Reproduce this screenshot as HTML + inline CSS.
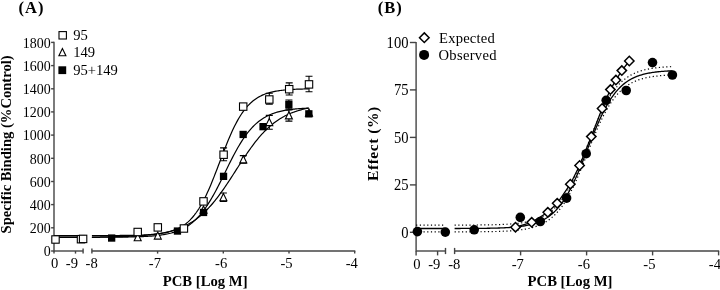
<!DOCTYPE html>
<html><head><meta charset="utf-8"><title>Figure</title>
<style>
html,body{margin:0;padding:0;background:#fff;}
body{width:720px;height:290px;overflow:hidden;}
svg{display:block;}
text{font-family:"Liberation Serif",serif;fill:#000;}
.b{font-weight:bold;}
</style></head><body>
<svg width="720" height="290" viewBox="0 0 720 290">
<rect width="720" height="290" fill="#fff"/>
<g stroke="#444" stroke-width="1.4" fill="none">
<path d="M54.0 41.8V251.6"/>
<path d="M51.1 251.0H54.0"/>
<path d="M51.1 227.8H54.0"/>
<path d="M51.1 204.6H54.0"/>
<path d="M51.1 181.5H54.0"/>
<path d="M51.1 158.3H54.0"/>
<path d="M51.1 135.1H54.0"/>
<path d="M51.1 111.9H54.0"/>
<path d="M51.1 88.8H54.0"/>
<path d="M51.1 65.6H54.0"/>
<path d="M51.1 42.4H54.0"/>
<path d="M54.0 251.0H83.1"/>
<path d="M91.9 251.0H355.3"/>
<path d="M83.1 248.6V253.4"/>
<path d="M91.9 248.6V253.4"/>
<path d="M54.0 251.0V253.6"/>
<path d="M75.5 251.0V253.6"/>
<path d="M157.6 251.0V253.6"/>
<path d="M223.3 251.0V253.6"/>
<path d="M289.0 251.0V253.6"/>
<path d="M354.7 251.0V253.6"/>
</g>
<text transform="translate(50.7 256.2) scale(0.955 1.03)" font-size="14.6" text-anchor="end">0</text>
<text transform="translate(50.7 233.0) scale(0.955 1.03)" font-size="14.6" text-anchor="end">200</text>
<text transform="translate(50.7 209.8) scale(0.955 1.03)" font-size="14.6" text-anchor="end">400</text>
<text transform="translate(50.7 186.7) scale(0.955 1.03)" font-size="14.6" text-anchor="end">600</text>
<text transform="translate(50.7 163.5) scale(0.955 1.03)" font-size="14.6" text-anchor="end">800</text>
<text transform="translate(50.7 140.3) scale(0.955 1.03)" font-size="14.6" text-anchor="end">1000</text>
<text transform="translate(50.7 117.1) scale(0.955 1.03)" font-size="14.6" text-anchor="end">1200</text>
<text transform="translate(50.7 94.0) scale(0.955 1.03)" font-size="14.6" text-anchor="end">1400</text>
<text transform="translate(50.7 70.8) scale(0.955 1.03)" font-size="14.6" text-anchor="end">1600</text>
<text transform="translate(50.7 47.6) scale(0.955 1.03)" font-size="14.6" text-anchor="end">1800</text>
<text x="54.6" y="268.2" font-size="14.6" text-anchor="middle">0</text>
<text transform="translate(78.0 268.2) scale(1 1.0)" font-size="14.6" text-anchor="end">-9</text>
<text transform="translate(97.7 268.2) scale(1 1.0)" font-size="14.6" text-anchor="end">-8</text>
<text transform="translate(161.0 268.2) scale(1 1.0)" font-size="14.6" text-anchor="end">-7</text>
<text transform="translate(227.2 268.2) scale(1 1.0)" font-size="14.6" text-anchor="end">-6</text>
<text transform="translate(292.6 268.2) scale(1 1.0)" font-size="14.6" text-anchor="end">-5</text>
<text transform="translate(357.9 268.2) scale(1 1.0)" font-size="14.6" text-anchor="end">-4</text>
<text class="b" x="18.6" y="13" font-size="16.5" letter-spacing="1">(A)</text>
<text class="b" x="205.2" y="286" font-size="14.7" text-anchor="middle">PCB [Log M]</text>
<text class="b" transform="translate(11 144.4) rotate(-90)" font-size="14.6" text-anchor="middle">Specific Binding (%Control)</text>
<path d="M54.0 237.21H83.1 M91.90 237.05 L92.99 237.04 L94.08 237.03 L95.17 237.02 L96.26 237.01 L97.35 237.00 L98.44 236.99 L99.53 236.98 L100.62 236.97 L101.71 236.96 L102.79 236.94 L103.88 236.93 L104.97 236.92 L106.06 236.90 L107.15 236.89 L108.24 236.87 L109.33 236.85 L110.42 236.83 L111.51 236.81 L112.60 236.79 L113.69 236.77 L114.78 236.75 L115.87 236.72 L116.96 236.70 L118.05 236.67 L119.14 236.64 L120.23 236.61 L121.32 236.58 L122.41 236.55 L123.50 236.52 L124.58 236.48 L125.67 236.44 L126.76 236.40 L127.85 236.36 L128.94 236.32 L130.03 236.27 L131.12 236.22 L132.21 236.17 L133.30 236.11 L134.39 236.06 L135.48 236.00 L136.57 235.94 L137.66 235.87 L138.75 235.80 L139.84 235.73 L140.93 235.65 L142.02 235.57 L143.11 235.49 L144.20 235.40 L145.29 235.30 L146.37 235.21 L147.46 235.10 L148.55 234.99 L149.64 234.88 L150.73 234.76 L151.82 234.64 L152.91 234.50 L154.00 234.36 L155.09 234.22 L156.18 234.07 L157.27 233.91 L158.36 233.74 L159.45 233.56 L160.54 233.38 L161.63 233.18 L162.72 232.98 L163.81 232.76 L164.90 232.54 L165.99 232.30 L167.08 232.06 L168.16 231.80 L169.25 231.53 L170.34 231.25 L171.43 230.95 L172.52 230.64 L173.61 230.31 L174.70 229.97 L175.79 229.61 L176.88 229.24 L177.97 228.85 L179.06 228.44 L180.15 228.01 L181.24 227.57 L182.33 227.10 L183.42 226.61 L184.51 226.11 L185.60 225.58 L186.69 225.02 L187.78 224.45 L188.87 223.85 L189.95 223.22 L191.04 222.57 L192.13 221.89 L193.22 221.19 L194.31 220.45 L195.40 219.69 L196.49 218.90 L197.58 218.08 L198.67 217.23 L199.76 216.35 L200.85 215.44 L201.94 214.49 L203.03 213.52 L204.12 212.51 L205.21 211.46 L206.30 210.39 L207.39 209.28 L208.48 208.14 L209.57 206.96 L210.66 205.75 L211.74 204.51 L212.83 203.24 L213.92 201.93 L215.01 200.59 L216.10 199.22 L217.19 197.82 L218.28 196.39 L219.37 194.93 L220.46 193.45 L221.55 191.94 L222.64 190.40 L223.73 188.84 L224.82 187.26 L225.91 185.65 L227.00 184.03 L228.09 182.39 L229.18 180.74 L230.27 179.08 L231.36 177.40 L232.45 175.71 L233.53 174.02 L234.62 172.32 L235.71 170.62 L236.80 168.92 L237.89 167.23 L238.98 165.53 L240.07 163.85 L241.16 162.17 L242.25 160.50 L243.34 158.85 L244.43 157.21 L245.52 155.58 L246.61 153.98 L247.70 152.39 L248.79 150.83 L249.88 149.29 L250.97 147.77 L252.06 146.28 L253.15 144.82 L254.24 143.39 L255.32 141.99 L256.41 140.61 L257.50 139.27 L258.59 137.96 L259.68 136.68 L260.77 135.43 L261.86 134.22 L262.95 133.04 L264.04 131.90 L265.13 130.78 L266.22 129.70 L267.31 128.66 L268.40 127.64 L269.49 126.66 L270.58 125.71 L271.67 124.79 L272.76 123.91 L273.85 123.05 L274.94 122.23 L276.03 121.44 L277.11 120.67 L278.20 119.94 L279.29 119.23 L280.38 118.55 L281.47 117.89 L282.56 117.26 L283.65 116.66 L284.74 116.08 L285.83 115.52 L286.92 114.99 L288.01 114.48 L289.10 113.99 L290.19 113.52 L291.28 113.07 L292.37 112.64 L293.46 112.23 L294.55 111.84 L295.64 111.46 L296.73 111.11 L297.82 110.76 L298.90 110.43 L299.99 110.12 L301.08 109.82 L302.17 109.54 L303.26 109.26 L304.35 109.00 L305.44 108.76 L306.53 108.52 L307.62 108.29 L308.71 108.08" fill="none" stroke="#000" stroke-width="1.2"/>
<path d="M54.0 237.33H83.1 M91.90 237.29 L92.99 237.29 L94.08 237.29 L95.17 237.29 L96.26 237.28 L97.35 237.28 L98.44 237.28 L99.53 237.28 L100.62 237.27 L101.71 237.27 L102.79 237.26 L103.88 237.26 L104.97 237.26 L106.06 237.25 L107.15 237.25 L108.24 237.24 L109.33 237.23 L110.42 237.23 L111.51 237.22 L112.60 237.21 L113.69 237.21 L114.78 237.20 L115.87 237.19 L116.96 237.18 L118.05 237.17 L119.14 237.16 L120.23 237.14 L121.32 237.13 L122.41 237.12 L123.50 237.10 L124.58 237.09 L125.67 237.07 L126.76 237.05 L127.85 237.03 L128.94 237.01 L130.03 236.99 L131.12 236.97 L132.21 236.94 L133.30 236.92 L134.39 236.89 L135.48 236.86 L136.57 236.82 L137.66 236.79 L138.75 236.75 L139.84 236.71 L140.93 236.67 L142.02 236.62 L143.11 236.57 L144.20 236.52 L145.29 236.46 L146.37 236.40 L147.46 236.33 L148.55 236.27 L149.64 236.19 L150.73 236.11 L151.82 236.03 L152.91 235.94 L154.00 235.84 L155.09 235.73 L156.18 235.62 L157.27 235.50 L158.36 235.38 L159.45 235.24 L160.54 235.10 L161.63 234.94 L162.72 234.78 L163.81 234.60 L164.90 234.41 L165.99 234.21 L167.08 234.00 L168.16 233.77 L169.25 233.52 L170.34 233.26 L171.43 232.99 L172.52 232.69 L173.61 232.37 L174.70 232.04 L175.79 231.68 L176.88 231.30 L177.97 230.89 L179.06 230.46 L180.15 230.01 L181.24 229.52 L182.33 229.00 L183.42 228.45 L184.51 227.87 L185.60 227.25 L186.69 226.60 L187.78 225.91 L188.87 225.18 L189.95 224.40 L191.04 223.59 L192.13 222.72 L193.22 221.81 L194.31 220.86 L195.40 219.85 L196.49 218.79 L197.58 217.67 L198.67 216.51 L199.76 215.28 L200.85 214.00 L201.94 212.67 L203.03 211.27 L204.12 209.82 L205.21 208.31 L206.30 206.74 L207.39 205.11 L208.48 203.43 L209.57 201.69 L210.66 199.90 L211.74 198.05 L212.83 196.15 L213.92 194.20 L215.01 192.21 L216.10 190.18 L217.19 188.11 L218.28 186.00 L219.37 183.87 L220.46 181.70 L221.55 179.52 L222.64 177.32 L223.73 175.11 L224.82 172.89 L225.91 170.67 L227.00 168.45 L228.09 166.25 L229.18 164.06 L230.27 161.88 L231.36 159.73 L232.45 157.61 L233.53 155.52 L234.62 153.47 L235.71 151.46 L236.80 149.49 L237.89 147.57 L238.98 145.70 L240.07 143.88 L241.16 142.12 L242.25 140.41 L243.34 138.75 L244.43 137.16 L245.52 135.62 L246.61 134.14 L247.70 132.72 L248.79 131.35 L249.88 130.05 L250.97 128.80 L252.06 127.60 L253.15 126.47 L254.24 125.38 L255.32 124.35 L256.41 123.37 L257.50 122.44 L258.59 121.55 L259.68 120.71 L260.77 119.92 L261.86 119.17 L262.95 118.46 L264.04 117.79 L265.13 117.15 L266.22 116.55 L267.31 115.99 L268.40 115.46 L269.49 114.96 L270.58 114.49 L271.67 114.04 L272.76 113.63 L273.85 113.23 L274.94 112.87 L276.03 112.52 L277.11 112.19 L278.20 111.89 L279.29 111.60 L280.38 111.34 L281.47 111.08 L282.56 110.85 L283.65 110.63 L284.74 110.42 L285.83 110.22 L286.92 110.04 L288.01 109.87 L289.10 109.71 L290.19 109.56 L291.28 109.42 L292.37 109.29 L293.46 109.17 L294.55 109.06 L295.64 108.95 L296.73 108.85 L297.82 108.75 L298.90 108.67 L299.99 108.58 L301.08 108.51 L302.17 108.44 L303.26 108.37 L304.35 108.31 L305.44 108.25 L306.53 108.19 L307.62 108.14 L308.71 108.09" fill="none" stroke="#000" stroke-width="1.2"/>
<path d="M54.0 235.59H83.1 M91.90 235.57 L92.99 235.57 L94.08 235.57 L95.17 235.57 L96.26 235.57 L97.35 235.56 L98.44 235.56 L99.53 235.56 L100.62 235.56 L101.71 235.56 L102.79 235.55 L103.88 235.55 L104.97 235.55 L106.06 235.54 L107.15 235.54 L108.24 235.54 L109.33 235.53 L110.42 235.53 L111.51 235.52 L112.60 235.52 L113.69 235.51 L114.78 235.51 L115.87 235.50 L116.96 235.50 L118.05 235.49 L119.14 235.48 L120.23 235.47 L121.32 235.46 L122.41 235.45 L123.50 235.44 L124.58 235.43 L125.67 235.42 L126.76 235.40 L127.85 235.39 L128.94 235.37 L130.03 235.35 L131.12 235.33 L132.21 235.31 L133.30 235.29 L134.39 235.27 L135.48 235.24 L136.57 235.21 L137.66 235.18 L138.75 235.15 L139.84 235.11 L140.93 235.08 L142.02 235.03 L143.11 234.99 L144.20 234.94 L145.29 234.89 L146.37 234.83 L147.46 234.77 L148.55 234.71 L149.64 234.63 L150.73 234.56 L151.82 234.47 L152.91 234.38 L154.00 234.29 L155.09 234.18 L156.18 234.07 L157.27 233.95 L158.36 233.82 L159.45 233.67 L160.54 233.52 L161.63 233.35 L162.72 233.17 L163.81 232.98 L164.90 232.77 L165.99 232.55 L167.08 232.31 L168.16 232.05 L169.25 231.77 L170.34 231.46 L171.43 231.14 L172.52 230.79 L173.61 230.41 L174.70 230.01 L175.79 229.57 L176.88 229.10 L177.97 228.60 L179.06 228.06 L180.15 227.48 L181.24 226.86 L182.33 226.19 L183.42 225.48 L184.51 224.72 L185.60 223.91 L186.69 223.04 L187.78 222.11 L188.87 221.12 L189.95 220.06 L191.04 218.94 L192.13 217.75 L193.22 216.49 L194.31 215.15 L195.40 213.73 L196.49 212.24 L197.58 210.66 L198.67 209.00 L199.76 207.25 L200.85 205.42 L201.94 203.50 L203.03 201.49 L204.12 199.40 L205.21 197.22 L206.30 194.96 L207.39 192.62 L208.48 190.20 L209.57 187.71 L210.66 185.15 L211.74 182.52 L212.83 179.84 L213.92 177.11 L215.01 174.33 L216.10 171.52 L217.19 168.68 L218.28 165.82 L219.37 162.95 L220.46 160.07 L221.55 157.20 L222.64 154.35 L223.73 151.52 L224.82 148.72 L225.91 145.96 L227.00 143.25 L228.09 140.59 L229.18 137.99 L230.27 135.46 L231.36 133.00 L232.45 130.61 L233.53 128.31 L234.62 126.08 L235.71 123.94 L236.80 121.88 L237.89 119.91 L238.98 118.03 L240.07 116.23 L241.16 114.52 L242.25 112.89 L243.34 111.35 L244.43 109.89 L245.52 108.50 L246.61 107.20 L247.70 105.96 L248.79 104.80 L249.88 103.71 L250.97 102.68 L252.06 101.72 L253.15 100.82 L254.24 99.97 L255.32 99.18 L256.41 98.44 L257.50 97.75 L258.59 97.10 L259.68 96.50 L260.77 95.94 L261.86 95.41 L262.95 94.92 L264.04 94.47 L265.13 94.05 L266.22 93.65 L267.31 93.29 L268.40 92.95 L269.49 92.63 L270.58 92.34 L271.67 92.07 L272.76 91.81 L273.85 91.58 L274.94 91.36 L276.03 91.16 L277.11 90.97 L278.20 90.80 L279.29 90.64 L280.38 90.49 L281.47 90.35 L282.56 90.23 L283.65 90.11 L284.74 90.00 L285.83 89.90 L286.92 89.80 L288.01 89.72 L289.10 89.64 L290.19 89.56 L291.28 89.49 L292.37 89.43 L293.46 89.37 L294.55 89.31 L295.64 89.26 L296.73 89.22 L297.82 89.17 L298.90 89.13 L299.99 89.10 L301.08 89.06 L302.17 89.03 L303.26 89.00 L304.35 88.97 L305.44 88.95 L306.53 88.93 L307.62 88.90 L308.71 88.88" fill="none" stroke="#000" stroke-width="1.2"/>
<path d="M137.7 233.5L141.2 240.7H134.2Z" fill="#fff" stroke="#000" stroke-width="1.1" stroke-linejoin="miter"/>
<path d="M157.8 231.9L161.3 239.1H154.3Z" fill="#fff" stroke="#000" stroke-width="1.1" stroke-linejoin="miter"/>
<path d="M203.5 205.9L207.0 213.1H200.0Z" fill="#fff" stroke="#000" stroke-width="1.1" stroke-linejoin="miter"/>
<path d="M223.4 193.0V201.4M219.9 193.0h7M219.9 201.4h7" fill="none" stroke="#000" stroke-width="1.1"/>
<path d="M223.4 193.6L226.9 200.8H219.9Z" fill="#fff" stroke="#000" stroke-width="1.1" stroke-linejoin="miter"/>
<path d="M243.3 155.6V163.3M239.8 155.6h7M239.8 163.3h7" fill="none" stroke="#000" stroke-width="1.1"/>
<path d="M243.3 155.7L246.8 162.9H239.8Z" fill="#fff" stroke="#000" stroke-width="1.1" stroke-linejoin="miter"/>
<path d="M269.3 115.4V129.3M265.8 115.4h7M265.8 129.3h7" fill="none" stroke="#000" stroke-width="1.1"/>
<path d="M269.3 118.4L272.8 125.6H265.8Z" fill="#fff" stroke="#000" stroke-width="1.1" stroke-linejoin="miter"/>
<path d="M288.9 110.0V121.1M285.4 110.0h7M285.4 121.1h7" fill="none" stroke="#000" stroke-width="1.1"/>
<path d="M288.9 111.7L292.4 118.9H285.4Z" fill="#fff" stroke="#000" stroke-width="1.1" stroke-linejoin="miter"/>
<path d="M309.0 108.9L312.5 116.1H305.5Z" fill="#fff" stroke="#000" stroke-width="1.1" stroke-linejoin="miter"/>
<rect x="108.0" y="234.4" width="7.3" height="7.3" fill="#000"/>
<rect x="173.8" y="227.4" width="7.3" height="7.3" fill="#000"/>
<rect x="199.9" y="208.8" width="7.3" height="7.3" fill="#000"/>
<rect x="219.9" y="172.7" width="7.3" height="7.3" fill="#000"/>
<rect x="239.5" y="130.8" width="7.3" height="7.3" fill="#000"/>
<rect x="259.4" y="123.0" width="7.3" height="7.3" fill="#000"/>
<path d="M288.9 100.0V108.9M285.4 100.0h7M285.4 108.9h7" fill="none" stroke="#000" stroke-width="1.1"/>
<rect x="285.2" y="100.8" width="7.3" height="7.3" fill="#000"/>
<rect x="305.2" y="110.2" width="7.3" height="7.3" fill="#000"/>
<rect x="51.80" y="235.80" width="7.4" height="7.4" fill="#fff" stroke="#000" stroke-width="1.1"/>
<rect x="77.30" y="235.50" width="7.4" height="7.4" fill="#fff" stroke="#000" stroke-width="1.1"/>
<rect x="79.40" y="235.20" width="7.4" height="7.4" fill="#fff" stroke="#000" stroke-width="1.1"/>
<rect x="134.00" y="228.30" width="7.4" height="7.4" fill="#fff" stroke="#000" stroke-width="1.1"/>
<rect x="154.10" y="223.70" width="7.4" height="7.4" fill="#fff" stroke="#000" stroke-width="1.1"/>
<rect x="180.20" y="224.80" width="7.4" height="7.4" fill="#fff" stroke="#000" stroke-width="1.1"/>
<rect x="199.80" y="197.70" width="7.4" height="7.4" fill="#fff" stroke="#000" stroke-width="1.1"/>
<path d="M223.6 147.9V160.7M220.1 147.9h7M220.1 160.7h7" fill="none" stroke="#000" stroke-width="1.1"/>
<rect x="219.90" y="151.00" width="7.4" height="7.4" fill="#fff" stroke="#000" stroke-width="1.1"/>
<rect x="239.50" y="102.90" width="7.4" height="7.4" fill="#fff" stroke="#000" stroke-width="1.1"/>
<path d="M269.3 93.3V104.1M265.8 93.3h7M265.8 104.1h7" fill="none" stroke="#000" stroke-width="1.1"/>
<rect x="265.60" y="95.80" width="7.4" height="7.4" fill="#fff" stroke="#000" stroke-width="1.1"/>
<path d="M289.2 82.9V95.0M285.7 82.9h7M285.7 95.0h7" fill="none" stroke="#000" stroke-width="1.1"/>
<rect x="285.50" y="85.50" width="7.4" height="7.4" fill="#fff" stroke="#000" stroke-width="1.1"/>
<path d="M309.0 76.2V91.8M305.5 76.2h7M305.5 91.8h7" fill="none" stroke="#000" stroke-width="1.1"/>
<rect x="305.30" y="80.70" width="7.4" height="7.4" fill="#fff" stroke="#000" stroke-width="1.1"/>
<rect x="59.00" y="31.60" width="7.4" height="7.4" fill="#fff" stroke="#000" stroke-width="1.1"/>
<path d="M62.4 48.5L65.9 55.7H58.9Z" fill="#fff" stroke="#000" stroke-width="1.1" stroke-linejoin="miter"/>
<rect x="58.4" y="66.3" width="7.8" height="7.8" fill="#000"/>
<text x="73.2" y="40" font-size="14.6">95</text>
<text x="73.2" y="57.2" font-size="14.6">149</text>
<text x="73.2" y="75.4" font-size="14.6">95+149</text>
<g stroke="#444" stroke-width="1.4" fill="none">
<path d="M416.1 41.9V251.6"/>
<path d="M409.9 232.3H416.1"/>
<path d="M409.9 184.9H416.1"/>
<path d="M409.9 137.4H416.1"/>
<path d="M409.9 89.9H416.1"/>
<path d="M409.9 42.5H416.1"/>
<path d="M416.1 251.0H445.5"/>
<path d="M454.6 251.0H719.2"/>
<path d="M445.5 247.9V254.1"/>
<path d="M454.6 247.9V254.1"/>
<path d="M416.1 251.0V255.4"/>
<path d="M437.6 251.0V255.4"/>
<path d="M520.6 251.0V255.4"/>
<path d="M586.6 251.0V255.4"/>
<path d="M652.6 251.0V255.4"/>
<path d="M718.6 251.0V255.4"/>
</g>
<text transform="translate(408.5 237.8) scale(1.0 1.1)" font-size="14.6" text-anchor="end">0</text>
<text transform="translate(408.5 190.4) scale(1.0 1.1)" font-size="14.6" text-anchor="end">25</text>
<text transform="translate(408.5 142.9) scale(1.0 1.1)" font-size="14.6" text-anchor="end">50</text>
<text transform="translate(408.5 95.4) scale(1.0 1.1)" font-size="14.6" text-anchor="end">75</text>
<text transform="translate(408.5 48.0) scale(1.0 1.1)" font-size="14.6" text-anchor="end">100</text>
<text transform="translate(416.8 268.8) scale(1 1.06)" font-size="14.6" text-anchor="middle">0</text>
<text transform="translate(440.3 268.8) scale(1 1.06)" font-size="14.6" text-anchor="end">-9</text>
<text transform="translate(460.3 268.8) scale(1 1.06)" font-size="14.6" text-anchor="end">-8</text>
<text transform="translate(523.8 268.8) scale(1 1.06)" font-size="14.6" text-anchor="end">-7</text>
<text transform="translate(590.0 268.8) scale(1 1.06)" font-size="14.6" text-anchor="end">-6</text>
<text transform="translate(655.5 268.8) scale(1 1.06)" font-size="14.6" text-anchor="end">-5</text>
<text transform="translate(721.0 268.8) scale(1 1.06)" font-size="14.6" text-anchor="end">-4</text>
<text class="b" x="377.7" y="13" font-size="16.5" letter-spacing="1">(B)</text>
<text class="b" x="570" y="286" font-size="14.7" text-anchor="middle">PCB [Log M]</text>
<text class="b" transform="translate(377.6 143.6) rotate(-90)" font-size="15.6" letter-spacing="0.5" text-anchor="middle">Effect (%)</text>
<path d="M416.1 225.12H445.5 M454.60 225.09 L455.69 225.09 L456.79 225.08 L457.88 225.08 L458.98 225.08 L460.07 225.08 L461.17 225.07 L462.26 225.07 L463.36 225.07 L464.45 225.06 L465.54 225.06 L466.64 225.05 L467.73 225.05 L468.83 225.04 L469.92 225.04 L471.02 225.03 L472.11 225.03 L473.21 225.02 L474.30 225.01 L475.39 225.00 L476.49 224.99 L477.58 224.99 L478.68 224.98 L479.77 224.97 L480.87 224.95 L481.96 224.94 L483.06 224.93 L484.15 224.92 L485.25 224.90 L486.34 224.89 L487.43 224.87 L488.53 224.85 L489.62 224.83 L490.72 224.81 L491.81 224.79 L492.91 224.76 L494.00 224.74 L495.10 224.71 L496.19 224.68 L497.28 224.65 L498.38 224.61 L499.47 224.58 L500.57 224.54 L501.66 224.49 L502.76 224.45 L503.85 224.40 L504.95 224.35 L506.04 224.29 L507.13 224.23 L508.23 224.17 L509.32 224.10 L510.42 224.02 L511.51 223.94 L512.61 223.86 L513.70 223.77 L514.80 223.67 L515.89 223.56 L516.98 223.45 L518.08 223.33 L519.17 223.20 L520.27 223.06 L521.36 222.91 L522.46 222.76 L523.55 222.59 L524.65 222.40 L525.74 222.21 L526.84 222.00 L527.93 221.78 L529.02 221.54 L530.12 221.28 L531.21 221.01 L532.31 220.72 L533.40 220.40 L534.50 220.07 L535.59 219.71 L536.69 219.33 L537.78 218.92 L538.87 218.49 L539.97 218.02 L541.06 217.53 L542.16 217.00 L543.25 216.44 L544.35 215.84 L545.44 215.21 L546.54 214.53 L547.63 213.81 L548.72 213.05 L549.82 212.23 L550.91 211.37 L552.01 210.46 L553.10 209.49 L554.20 208.47 L555.29 207.38 L556.39 206.24 L557.48 205.03 L558.57 203.76 L559.67 202.42 L560.76 201.01 L561.86 199.53 L562.95 197.97 L564.05 196.35 L565.14 194.64 L566.24 192.87 L567.33 191.01 L568.43 189.08 L569.52 187.07 L570.61 184.99 L571.71 182.83 L572.80 180.60 L573.90 178.30 L574.99 175.94 L576.09 173.50 L577.18 171.01 L578.28 168.46 L579.37 165.86 L580.46 163.21 L581.56 160.52 L582.65 157.79 L583.75 155.03 L584.84 152.25 L585.94 149.45 L587.03 146.64 L588.13 143.83 L589.22 141.03 L590.31 138.23 L591.41 135.46 L592.50 132.71 L593.60 129.99 L594.69 127.30 L595.79 124.66 L596.88 122.07 L597.98 119.53 L599.07 117.05 L600.16 114.63 L601.26 112.28 L602.35 110.00 L603.45 107.78 L604.54 105.64 L605.64 103.58 L606.73 101.59 L607.83 99.67 L608.92 97.83 L610.02 96.07 L611.11 94.39 L612.20 92.78 L613.30 91.24 L614.39 89.77 L615.49 88.38 L616.58 87.05 L617.68 85.79 L618.77 84.60 L619.87 83.47 L620.96 82.40 L622.05 81.39 L623.15 80.43 L624.24 79.53 L625.34 78.68 L626.43 77.88 L627.53 77.13 L628.62 76.42 L629.72 75.75 L630.81 75.12 L631.90 74.53 L633.00 73.98 L634.09 73.46 L635.19 72.97 L636.28 72.51 L637.38 72.08 L638.47 71.68 L639.57 71.31 L640.66 70.95 L641.75 70.62 L642.85 70.32 L643.94 70.03 L645.04 69.76 L646.13 69.51 L647.23 69.27 L648.32 69.05 L649.42 68.85 L650.51 68.65 L651.61 68.47 L652.70 68.31 L653.79 68.15 L654.89 68.00 L655.98 67.87 L657.08 67.74 L658.17 67.62 L659.27 67.51 L660.36 67.41 L661.46 67.31 L662.55 67.22 L663.64 67.14 L664.74 67.06 L665.83 66.98 L666.93 66.92 L668.02 66.85 L669.12 66.79 L670.21 66.74 L671.31 66.69 L672.40 66.64" fill="none" stroke="#000" stroke-width="1.2" stroke-dasharray="1.2 2.5"/>
<path d="M416.1 231.92H445.5 M454.60 231.89 L455.69 231.89 L456.79 231.89 L457.88 231.89 L458.98 231.88 L460.07 231.88 L461.17 231.88 L462.26 231.87 L463.36 231.87 L464.45 231.87 L465.54 231.86 L466.64 231.86 L467.73 231.85 L468.83 231.85 L469.92 231.84 L471.02 231.84 L472.11 231.83 L473.21 231.82 L474.30 231.82 L475.39 231.81 L476.49 231.80 L477.58 231.79 L478.68 231.78 L479.77 231.77 L480.87 231.76 L481.96 231.75 L483.06 231.74 L484.15 231.72 L485.25 231.71 L486.34 231.69 L487.43 231.67 L488.53 231.66 L489.62 231.64 L490.72 231.62 L491.81 231.59 L492.91 231.57 L494.00 231.54 L495.10 231.52 L496.19 231.49 L497.28 231.46 L498.38 231.42 L499.47 231.39 L500.57 231.35 L501.66 231.30 L502.76 231.26 L503.85 231.21 L504.95 231.16 L506.04 231.10 L507.13 231.04 L508.23 230.98 L509.32 230.91 L510.42 230.84 L511.51 230.76 L512.61 230.67 L513.70 230.58 L514.80 230.49 L515.89 230.38 L516.98 230.27 L518.08 230.15 L519.17 230.02 L520.27 229.89 L521.36 229.74 L522.46 229.58 L523.55 229.41 L524.65 229.23 L525.74 229.04 L526.84 228.83 L527.93 228.61 L529.02 228.38 L530.12 228.12 L531.21 227.85 L532.31 227.56 L533.40 227.25 L534.50 226.92 L535.59 226.57 L536.69 226.19 L537.78 225.79 L538.87 225.36 L539.97 224.90 L541.06 224.41 L542.16 223.88 L543.25 223.33 L544.35 222.74 L545.44 222.11 L546.54 221.43 L547.63 220.72 L548.72 219.96 L549.82 219.16 L550.91 218.31 L552.01 217.40 L553.10 216.44 L554.20 215.43 L555.29 214.36 L556.39 213.22 L557.48 212.03 L558.57 210.77 L559.67 209.44 L560.76 208.04 L561.86 206.58 L562.95 205.04 L564.05 203.42 L565.14 201.74 L566.24 199.98 L567.33 198.14 L568.43 196.23 L569.52 194.24 L570.61 192.18 L571.71 190.04 L572.80 187.83 L573.90 185.55 L574.99 183.21 L576.09 180.80 L577.18 178.33 L578.28 175.80 L579.37 173.23 L580.46 170.60 L581.56 167.93 L582.65 165.23 L583.75 162.50 L584.84 159.75 L585.94 156.98 L587.03 154.19 L588.13 151.41 L589.22 148.63 L590.31 145.86 L591.41 143.11 L592.50 140.39 L593.60 137.69 L594.69 135.04 L595.79 132.42 L596.88 129.85 L597.98 127.34 L599.07 124.88 L600.16 122.49 L601.26 120.16 L602.35 117.89 L603.45 115.70 L604.54 113.58 L605.64 111.54 L606.73 109.56 L607.83 107.67 L608.92 105.85 L610.02 104.10 L611.11 102.43 L612.20 100.84 L613.30 99.31 L614.39 97.86 L615.49 96.48 L616.58 95.17 L617.68 93.92 L618.77 92.74 L619.87 91.62 L620.96 90.56 L622.05 89.56 L623.15 88.61 L624.24 87.72 L625.34 86.88 L626.43 86.08 L627.53 85.34 L628.62 84.63 L629.72 83.97 L630.81 83.35 L631.90 82.76 L633.00 82.22 L634.09 81.70 L635.19 81.22 L636.28 80.77 L637.38 80.34 L638.47 79.94 L639.57 79.57 L640.66 79.22 L641.75 78.90 L642.85 78.59 L643.94 78.31 L645.04 78.04 L646.13 77.79 L647.23 77.56 L648.32 77.34 L649.42 77.13 L650.51 76.94 L651.61 76.77 L652.70 76.60 L653.79 76.45 L654.89 76.30 L655.98 76.17 L657.08 76.04 L658.17 75.92 L659.27 75.81 L660.36 75.71 L661.46 75.61 L662.55 75.52 L663.64 75.44 L664.74 75.36 L665.83 75.29 L666.93 75.22 L668.02 75.16 L669.12 75.10 L670.21 75.05 L671.31 75.00 L672.40 74.95" fill="none" stroke="#000" stroke-width="1.2" stroke-dasharray="1.2 2.5"/>
<path d="M416.1 228.52H445.5 M454.60 228.49 L455.69 228.49 L456.79 228.49 L457.88 228.48 L458.98 228.48 L460.07 228.48 L461.17 228.47 L462.26 228.47 L463.36 228.47 L464.45 228.46 L465.54 228.46 L466.64 228.45 L467.73 228.45 L468.83 228.45 L469.92 228.44 L471.02 228.43 L472.11 228.43 L473.21 228.42 L474.30 228.41 L475.39 228.41 L476.49 228.40 L477.58 228.39 L478.68 228.38 L479.77 228.37 L480.87 228.36 L481.96 228.35 L483.06 228.33 L484.15 228.32 L485.25 228.30 L486.34 228.29 L487.43 228.27 L488.53 228.25 L489.62 228.23 L490.72 228.21 L491.81 228.19 L492.91 228.17 L494.00 228.14 L495.10 228.11 L496.19 228.08 L497.28 228.05 L498.38 228.02 L499.47 227.98 L500.57 227.94 L501.66 227.90 L502.76 227.85 L503.85 227.81 L504.95 227.75 L506.04 227.70 L507.13 227.64 L508.23 227.57 L509.32 227.50 L510.42 227.43 L511.51 227.35 L512.61 227.27 L513.70 227.18 L514.80 227.08 L515.89 226.97 L516.98 226.86 L518.08 226.74 L519.17 226.61 L520.27 226.47 L521.36 226.33 L522.46 226.17 L523.55 226.00 L524.65 225.82 L525.74 225.62 L526.84 225.42 L527.93 225.19 L529.02 224.96 L530.12 224.70 L531.21 224.43 L532.31 224.14 L533.40 223.83 L534.50 223.49 L535.59 223.14 L536.69 222.76 L537.78 222.35 L538.87 221.92 L539.97 221.46 L541.06 220.97 L542.16 220.44 L543.25 219.89 L544.35 219.29 L545.44 218.66 L546.54 217.98 L547.63 217.27 L548.72 216.50 L549.82 215.70 L550.91 214.84 L552.01 213.93 L553.10 212.97 L554.20 211.95 L555.29 210.87 L556.39 209.73 L557.48 208.53 L558.57 207.26 L559.67 205.93 L560.76 204.53 L561.86 203.05 L562.95 201.51 L564.05 199.89 L565.14 198.19 L566.24 196.42 L567.33 194.58 L568.43 192.65 L569.52 190.66 L570.61 188.58 L571.71 186.44 L572.80 184.22 L573.90 181.93 L574.99 179.57 L576.09 177.15 L577.18 174.67 L578.28 172.13 L579.37 169.54 L580.46 166.90 L581.56 164.23 L582.65 161.51 L583.75 158.77 L584.84 156.00 L585.94 153.21 L587.03 150.42 L588.13 147.62 L589.22 144.83 L590.31 142.05 L591.41 139.29 L592.50 136.55 L593.60 133.84 L594.69 131.17 L595.79 128.54 L596.88 125.96 L597.98 123.44 L599.07 120.97 L600.16 118.56 L601.26 116.22 L602.35 113.95 L603.45 111.74 L604.54 109.61 L605.64 107.56 L606.73 105.58 L607.83 103.67 L608.92 101.84 L610.02 100.09 L611.11 98.41 L612.20 96.81 L613.30 95.28 L614.39 93.82 L615.49 92.43 L616.58 91.11 L617.68 89.86 L618.77 88.67 L619.87 87.55 L620.96 86.48 L622.05 85.47 L623.15 84.52 L624.24 83.63 L625.34 82.78 L626.43 81.98 L627.53 81.23 L628.62 80.52 L629.72 79.86 L630.81 79.23 L631.90 78.65 L633.00 78.10 L634.09 77.58 L635.19 77.09 L636.28 76.64 L637.38 76.21 L638.47 75.81 L639.57 75.44 L640.66 75.09 L641.75 74.76 L642.85 74.45 L643.94 74.17 L645.04 73.90 L646.13 73.65 L647.23 73.41 L648.32 73.19 L649.42 72.99 L650.51 72.80 L651.61 72.62 L652.70 72.45 L653.79 72.30 L654.89 72.15 L655.98 72.02 L657.08 71.89 L658.17 71.77 L659.27 71.66 L660.36 71.56 L661.46 71.46 L662.55 71.37 L663.64 71.29 L664.74 71.21 L665.83 71.14 L666.93 71.07 L668.02 71.01 L669.12 70.95 L670.21 70.89 L671.31 70.84 L672.40 70.79" fill="none" stroke="#000" stroke-width="1.3"/>
<circle cx="417.4" cy="231.6" r="4.8" fill="#000"/>
<circle cx="445.3" cy="232.1" r="4.8" fill="#000"/>
<circle cx="474.2" cy="229.8" r="4.8" fill="#000"/>
<circle cx="520.3" cy="217.4" r="4.8" fill="#000"/>
<circle cx="540.3" cy="221.5" r="4.8" fill="#000"/>
<circle cx="566.6" cy="198.1" r="4.8" fill="#000"/>
<circle cx="586.2" cy="153.7" r="4.8" fill="#000"/>
<circle cx="606.2" cy="100.3" r="4.8" fill="#000"/>
<circle cx="626.2" cy="90.5" r="4.8" fill="#000"/>
<circle cx="652.5" cy="62.6" r="4.8" fill="#000"/>
<circle cx="672.4" cy="75.0" r="4.8" fill="#000"/>
<path d="M515.5 227.2 L531.7 222.3 L547.8 212.3 L557.2 203.3 L570.3 184.2 L579.6 165.5 L591.3 136.6 L602.1 108.5 L610.4 89.6 L615.9 80.1 L621.8 70.6 L629.3 61.0" fill="none" stroke="#000" stroke-width="1.3"/>
<path d="M515.5 222.5L520.2 227.2L515.5 231.9L510.8 227.2Z" fill="#fff" stroke="#000" stroke-width="1.5"/>
<path d="M531.7 217.6L536.4 222.3L531.7 227.0L527.0 222.3Z" fill="#fff" stroke="#000" stroke-width="1.5"/>
<path d="M547.8 207.6L552.5 212.3L547.8 217.0L543.1 212.3Z" fill="#fff" stroke="#000" stroke-width="1.5"/>
<path d="M557.2 198.6L561.9 203.3L557.2 208.0L552.5 203.3Z" fill="#fff" stroke="#000" stroke-width="1.5"/>
<path d="M570.3 179.5L575.0 184.2L570.3 188.9L565.6 184.2Z" fill="#fff" stroke="#000" stroke-width="1.5"/>
<path d="M579.6 160.8L584.3 165.5L579.6 170.2L574.9 165.5Z" fill="#fff" stroke="#000" stroke-width="1.5"/>
<path d="M591.3 131.9L596.0 136.6L591.3 141.3L586.6 136.6Z" fill="#fff" stroke="#000" stroke-width="1.5"/>
<path d="M602.1 103.8L606.8 108.5L602.1 113.2L597.4 108.5Z" fill="#fff" stroke="#000" stroke-width="1.5"/>
<path d="M610.4 84.9L615.1 89.6L610.4 94.3L605.7 89.6Z" fill="#fff" stroke="#000" stroke-width="1.5"/>
<path d="M615.9 75.4L620.6 80.1L615.9 84.8L611.2 80.1Z" fill="#fff" stroke="#000" stroke-width="1.5"/>
<path d="M621.8 65.9L626.5 70.6L621.8 75.3L617.1 70.6Z" fill="#fff" stroke="#000" stroke-width="1.5"/>
<path d="M629.3 56.3L634.0 61.0L629.3 65.7L624.6 61.0Z" fill="#fff" stroke="#000" stroke-width="1.5"/>
<path d="M424.3 32.9L429.1 37.7L424.3 42.5L419.5 37.7Z" fill="#fff" stroke="#000" stroke-width="1.5"/>
<circle cx="424.1" cy="54.9" r="5.0" fill="#000"/>
<text x="439" y="42.8" font-size="14.6" letter-spacing="0.22">Expected</text>
<text x="438.5" y="59.8" font-size="14.6" letter-spacing="0.3">Observed</text>
</svg>
</body></html>
